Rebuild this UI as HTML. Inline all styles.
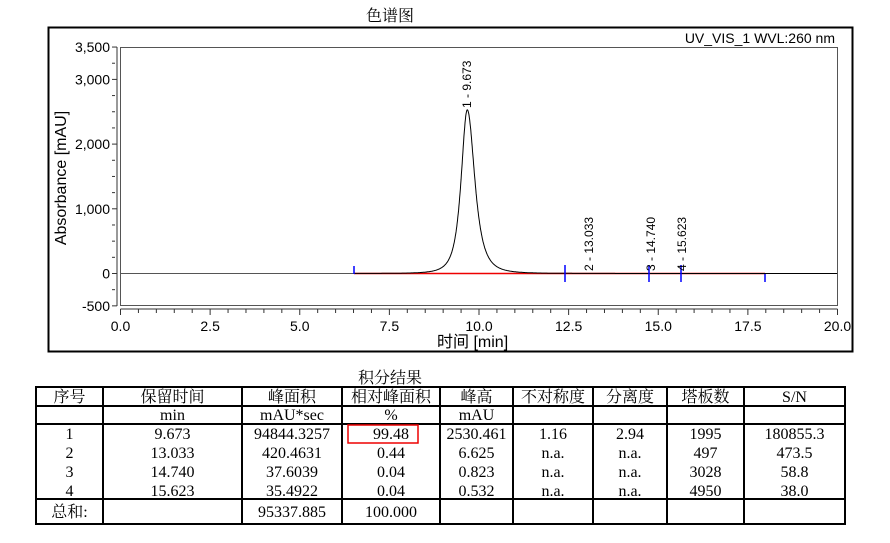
<!DOCTYPE html>
<html><head><meta charset="utf-8"><style>
body{margin:0;background:#fff;width:890px;height:538px;overflow:hidden}
svg text{font-family:"Liberation Sans","Noto Sans CJK SC",sans-serif}
svg .t, svg .t text{font-family:"Liberation Serif","Noto Serif CJK SC",serif;font-size:16px}
</style></head><body>
<svg id="s" width="890" height="538" xmlns="http://www.w3.org/2000/svg">
<text x="390" y="21" class="t" text-anchor="middle">色谱图</text>
<rect x="48.5" y="27.5" width="804" height="324" fill="none" stroke="#000" stroke-width="2"/>
<rect x="120.5" y="47.5" width="717" height="258" fill="none" stroke="#555" stroke-width="1"/>
<text x="835" y="43" font-size="14" text-anchor="end">UV_VIS_1 WVL:260 nm</text>
<g id="yt" font-size="14" text-anchor="end"></g>
<g id="xt" font-size="14" text-anchor="middle"></g>
<text transform="translate(66,178) rotate(-90)" font-size="16" text-anchor="middle">Absorbance [mAU]</text>
<text x="437" y="347" font-size="16"><tspan style="font-family:'Noto Sans CJK SC',sans-serif">时间</tspan> [min]</text>
<line x1="120.5" y1="273.5" x2="837.5" y2="273.5" stroke="#555"/>
<line x1="354" y1="273.5" x2="765" y2="273.5" stroke="#e00" stroke-width="1.5"/>
<path id="pk" fill="none" stroke="#000" stroke-width="1"/>
<g stroke="#00f" stroke-width="1.5">
<line x1="354" y1="266" x2="354" y2="274"/>
<line x1="565" y1="265" x2="565" y2="282"/>
<line x1="649" y1="265" x2="649" y2="282"/>
<line x1="681" y1="265" x2="681" y2="282"/>
<line x1="765" y1="274" x2="765" y2="282"/>
</g>
<g font-size="12">
<text transform="translate(471,108) rotate(-90)">1 - 9.673</text>
<text transform="translate(593,271) rotate(-90)">2 - 13.033</text>
<text transform="translate(655,271) rotate(-90)">3 - 14.740</text>
<text transform="translate(686,271) rotate(-90)">4 - 15.623</text>
</g>
<text x="390" y="383" class="t" text-anchor="middle">积分结果</text>
<g stroke="#000" stroke-width="2" fill="none">
<rect x="36" y="387" width="809" height="137"/>
<line x1="36" y1="406" x2="845" y2="406"/><line x1="36" y1="424" x2="845" y2="424"/><line x1="36" y1="499" x2="845" y2="499"/>
<line x1="103" y1="387" x2="103" y2="524"/><line x1="242" y1="387" x2="242" y2="524"/><line x1="342" y1="387" x2="342" y2="524"/>
<line x1="440" y1="387" x2="440" y2="524"/><line x1="513" y1="387" x2="513" y2="524"/><line x1="593" y1="387" x2="593" y2="524"/>
<line x1="667" y1="387" x2="667" y2="524"/><line x1="744" y1="387" x2="744" y2="524"/>
</g>
<rect x="348" y="425" width="70" height="18" fill="none" stroke="#e00" stroke-width="1.5"/>
<g id="tb" class="t" text-anchor="middle"></g>
</svg>
<script>
var ns="http://www.w3.org/2000/svg";
function T(g,x,y,s){var t=document.createElementNS(ns,"text");t.setAttribute("x",x);t.setAttribute("y",y);t.textContent=s;document.getElementById(g).appendChild(t);}
function L(x1,y1,x2,y2){var l=document.createElementNS(ns,"line");l.setAttribute("x1",x1);l.setAttribute("y1",y1);l.setAttribute("x2",x2);l.setAttribute("y2",y2);l.setAttribute("stroke","#333");document.getElementById("s").appendChild(l);}
function Y(v){return 273.5-v*0.0647;}
function X(t){return 120.5+t*35.85;}
[[3500,"3,500"],[3000,"3,000"],[2000,"2,000"],[1000,"1,000"],[0,"0"],[-500,"-500"]].forEach(function(a){T("yt",110,Y(a[0])+5,a[1]);});
for(var v=-500;v<=3500;v+=250){L(112,Y(v),v%1000==0||v==3500||v==-500?117:115,Y(v));}
L(117,47,117,306);
L(120.5,309,837.5,309);
for(var i=0;i<=40;i++){var x=X(i*0.5);L(x,309,x,i%5==0?315:313);}
for(var i=0;i<=8;i++){T("xt",X(i*2.5),331,(i*2.5).toFixed(1));}
var d="";for(var t=6.5;t<=20;t+=0.01){var dt=t-9.673;var w=dt<0?0.27:0.33;var v=2530/Math.pow(1+(dt/w)*(dt/w),1.6);d+=(d?"L":"M")+X(t).toFixed(1)+","+Y(v).toFixed(1);}
document.getElementById("pk").setAttribute("d",d);
var cx=[69.5,172.5,292,391,476.5,553,630,705.5,794.5];
var rows=[[396,["序号","保留时间","峰面积","相对峰面积","峰高","不对称度","分离度","塔板数","S/N"]],
[420,["","min","mAU*sec","%","mAU","","","",""]],
[439,["1","9.673","94844.3257","99.48","2530.461","1.16","2.94","1995","180855.3"]],
[458,["2","13.033","420.4631","0.44","6.625","n.a.","n.a.","497","473.5"]],
[477,["3","14.740","37.6039","0.04","0.823","n.a.","n.a.","3028","58.8"]],
[496,["4","15.623","35.4922","0.04","0.532","n.a.","n.a.","4950","38.0"]],
[517,["总和:","","95337.885","100.000","","","","",""]]];
rows.forEach(function(r){r[1].forEach(function(s,i){if(s)T("tb",cx[i],r[0]+(r[0]==396?6:0),s);});});
</script>
</body></html>
